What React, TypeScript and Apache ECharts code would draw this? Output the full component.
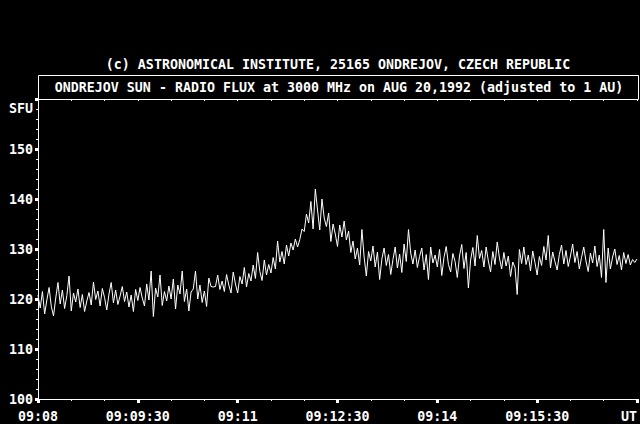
import { useEffect, useRef } from "react";
import * as echarts from "echarts";

const HEADING = "(c) ASTRONOMICAL INSTITUTE, 25165 ONDREJOV, CZECH REPUBLIC";
const BOX_TITLE = "ONDREJOV SUN - RADIO FLUX at 3000 MHz on AUG 20,1992 (adjusted to 1 AU)";
const Y_UNIT = "SFU";
const X_TICK_LABELS = ["09:08", "09:09:30", "09:11", "09:12:30", "09:14", "09:15:30", "UT"];
const X_MIN = 0;
const X_MAX = 540;
const X_MAJOR = 90;
const X_TOP_TICK = 30;
const Y_MIN = 100;
const Y_MAX = 160;
const Y_MAJOR = 10;
const SAMPLE_STEP_S = 2;

// flux (SFU), one sample every 2 s from 09:08:00
const FLUX = [
  120.8, 118.2, 121.5, 117.0, 119.8, 122.3, 118.5, 116.6, 120.2, 123.3,
  119.0, 121.8, 118.1, 120.7, 124.6, 117.6, 121.2, 119.4, 122.0, 118.3,
  120.9, 117.5, 119.6, 121.3, 118.8, 123.4, 119.9, 121.6, 118.6, 122.1,
  120.3, 117.8, 121.0, 123.3, 119.2, 121.8, 118.9, 120.6, 122.5, 119.5,
  121.4, 118.4, 120.8, 117.5, 121.9, 119.7, 122.3, 120.2, 118.6, 123.0,
  119.8, 125.6, 116.5, 122.2, 120.4, 124.8, 118.7, 121.5, 119.6, 122.6,
  120.0, 124.0, 118.0, 122.8, 121.0, 125.6, 119.5, 122.0, 117.6, 121.4,
  122.0, 125.6, 120.0, 122.8, 119.3, 121.6, 118.5, 124.2, 122.5, 122.4,
  122.5, 124.8, 121.9, 123.6, 121.5, 124.9, 122.8, 121.2, 125.4, 123.0,
  121.2, 124.5, 123.0, 126.3, 122.4, 125.1, 123.6, 126.8, 124.1, 129.3,
  125.5, 123.7, 127.8, 124.8, 126.9, 125.2, 128.3, 126.0, 131.6, 127.4,
  129.5, 127.0, 130.8, 128.6, 131.2, 129.8, 132.0, 130.4, 131.9, 134.0,
  133.5, 137.0, 135.2, 139.5, 134.0, 142.0, 137.8, 133.8, 140.0, 136.2,
  134.5, 137.2, 131.5, 135.0, 133.0, 130.5, 134.8, 132.4, 135.6, 131.8,
  133.6, 129.3, 131.6, 128.0, 130.2, 126.8, 133.9, 128.4, 124.6, 129.5,
  127.6, 130.6, 126.4, 129.4, 123.9, 128.0, 130.2, 126.7, 128.9, 124.9,
  127.9, 130.4, 126.2, 129.0, 125.3, 131.0, 127.5, 133.9, 129.2, 127.0,
  129.8, 126.3, 128.5, 130.2, 125.8, 128.9, 123.9, 130.4, 127.2, 128.8,
  126.4, 129.9, 124.7, 128.3, 130.5, 126.9, 125.4, 129.1, 127.5, 124.3,
  128.6, 130.9, 126.1, 129.3, 122.2, 127.8, 130.3, 126.6, 132.7, 128.1,
  129.7, 126.4, 130.4, 127.6, 125.4, 129.5, 126.9, 131.4, 128.2, 126.0,
  129.3, 126.6, 128.6, 124.5, 127.4, 126.3, 120.9, 129.9, 127.1, 130.4,
  126.9, 128.8, 125.6, 129.6, 127.3, 124.8, 128.5, 126.7, 130.5, 127.8,
  132.7, 126.2, 129.4, 127.5, 125.8, 128.9, 130.8, 127.0, 129.7, 126.5,
  128.6, 131.0, 127.3, 129.5, 126.0, 128.3, 130.4, 127.6, 125.5, 129.2,
  127.2, 130.6, 126.5, 128.8, 124.3, 133.9, 123.3, 130.2, 126.0, 128.4,
  130.0, 126.9, 128.7, 125.8, 129.3, 127.1, 128.9, 126.8, 127.9, 127.3,
  128.0,
];

export default function App() {
  const ref = useRef<HTMLDivElement>(null);
  useEffect(() => {
    const chart = echarts.init(ref.current!, null, { renderer: "svg" });
    const data = FLUX.map((v, i) => [i * SAMPLE_STEP_S, v]);
    const font = "'DejaVu Sans Mono', monospace";
    const txt = { fill: "#fff", font: `bold 13.3px ${font}` };
    chart.setOption({
      animation: false,
      backgroundColor: "#000",
      textStyle: { fontFamily: font },
      grid: { left: 38, right: 2, top: 99, bottom: 25 },
      xAxis: [
        {
          type: "value",
          min: X_MIN,
          max: X_MAX,
          interval: X_MAJOR,
          position: "bottom",
          axisLine: { lineStyle: { color: "#fff", width: 1 } },
          axisTick: { show: true, length: 4, lineStyle: { color: "#fff", width: 3 } },
          minorTick: { show: true, splitNumber: 3, length: 2, lineStyle: { color: "#fff", width: 1 } },
          splitLine: { show: false },
          axisLabel: {
            color: "#fff",
            fontFamily: font,
            fontSize: 13.3,
            fontWeight: "bold",
            margin: 11,
            showMinLabel: true,
            showMaxLabel: true,
            alignMaxLabel: "right",
            formatter: (v: number) => X_TICK_LABELS[Math.round((v - X_MIN) / X_MAJOR)] ?? "",
          },
        },
        {
          type: "value",
          min: X_MIN,
          max: X_MAX,
          interval: X_TOP_TICK,
          position: "top",
          axisLine: { lineStyle: { color: "#fff", width: 1 } },
          axisTick: { show: true, inside: true, length: 2, lineStyle: { color: "#fff", width: 1 } },
          splitLine: { show: false },
          axisLabel: { show: false },
        },
      ],
      yAxis: [
        {
          type: "value",
          min: Y_MIN,
          max: Y_MAX,
          interval: Y_MAJOR,
          axisLine: { show: true, lineStyle: { color: "#fff", width: 1 } },
          axisTick: { show: true, length: 3, lineStyle: { color: "#fff", width: 3 } },
          minorTick: { show: true, splitNumber: 5, length: 2, lineStyle: { color: "#fff", width: 1 } },
          splitLine: { show: false },
          axisLabel: {
            color: "#fff",
            fontFamily: font,
            fontSize: 13.3,
            fontWeight: "bold",
            margin: 5,
            formatter: (v: number) => (v === Y_MAX ? "" : String(v)),
          },
        },
        {
          type: "value",
          min: Y_MIN,
          max: Y_MAX,
          position: "right",
          axisLine: { show: true, lineStyle: { color: "#fff", width: 1 } },
          axisTick: { show: false },
          splitLine: { show: false },
          axisLabel: { show: false },
        },
      ],
      graphic: [
        {
          type: "text",
          x: 338,
          y: 64,
          style: { ...txt, text: HEADING, textAlign: "center", textVerticalAlign: "middle" },
        },
        {
          type: "rect",
          shape: { x: 38.5, y: 75.5, width: 600, height: 24 },
          style: { fill: "none", stroke: "#fff", lineWidth: 1 },
        },
        {
          type: "text",
          x: 339,
          y: 87.5,
          style: { ...txt, text: BOX_TITLE, textAlign: "center", textVerticalAlign: "middle" },
        },
        {
          type: "text",
          x: 33,
          y: 108,
          style: { ...txt, text: Y_UNIT, textAlign: "right", textVerticalAlign: "middle" },
        },
      ],
      series: [
        {
          type: "line",
          data,
          xAxisIndex: 0,
          yAxisIndex: 0,
          showSymbol: false,
          symbol: "none",
          lineStyle: { color: "#fff", width: 1 },
        },
      ],
    });
    return () => chart.dispose();
  }, []);
  return (
    <div
      ref={ref}
      style={{ position: "absolute", left: 0, top: 0, width: 640, height: 424, background: "#000" }}
    />
  );
}
